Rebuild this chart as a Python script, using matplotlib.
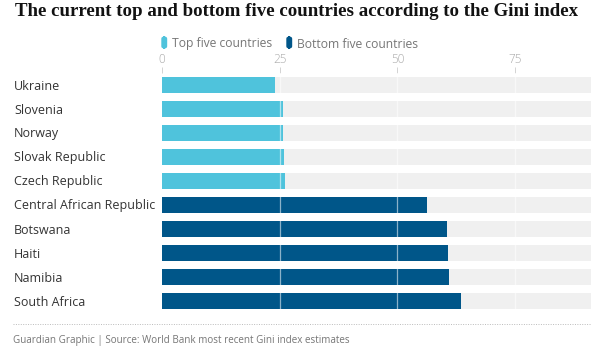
import matplotlib
matplotlib.use("Agg")
import matplotlib.pyplot as plt
from matplotlib.patches import FancyBboxPatch

plt.rcParams['font.family'] = ['Open Sans', 'DejaVu Sans']

countries = ['Ukraine', 'Slovenia', 'Norway', 'Slovak Republic', 'Czech Republic',
             'Central African Republic', 'Botswana', 'Haiti', 'Namibia', 'South Africa']
gini = [24.1, 25.6, 25.8, 26.0, 26.1, 56.2, 60.5, 60.8, 61.0, 63.4]
group = ['top'] * 5 + ['bottom'] * 5
ticks = [0, 25, 50, 75]

top_col = '#4fc3dc'
bottom_col = '#005689'
xmax = 91.1

W, H = 591, 352
fig = plt.figure(figsize=(W / 100, H / 100), dpi=100)
ax = fig.add_axes([162 / W, 1 - 313 / H, (W - 162) / W, 240 / H])

y = list(range(len(countries)))
ax.barh(y, [xmax] * len(y), height=0.66, color='#f0f0f0', zorder=1)
colors = [top_col if g == 'top' else bottom_col for g in group]
ax.barh(y, gini, height=0.66, color=colors, zorder=2)
for t in ticks[1:]:
    ax.axvline(t, color='white', alpha=0.55, lw=0.9, zorder=3)

ax.set_xlim(0, xmax)
ax.set_ylim(len(y) - 0.5, -0.5)
ax.set_yticks([])
ax.xaxis.tick_top()
ax.set_xticks(ticks)
ax.tick_params(axis='x', length=4, width=0.6, color='#cccccc', pad=1,
               labelsize=8.5, labelcolor='#aaaaaa')
for lab in ax.get_xticklabels():
    lab.set_fontweight('light')
for s in ax.spines.values():
    s.set_visible(False)

# country labels
for i, c in enumerate(countries):
    fig.text(14 / W, 1 - (86 + 24 * i) / H, c, fontsize=9, color='#333333',
             va='center', ha='left')

# title
fig.text(15 / W, 1 - 12 / H, 'The current top and bottom five countries according to the Gini index',
         fontsize=13.6, fontweight='bold', family='Liberation Serif', color='#121212',
         va='center', ha='left')

# legend
for xpos, col, lab in [(162, top_col, 'Top five countries'), (287, bottom_col, 'Bottom five countries')]:
    fig.patches.append(FancyBboxPatch((xpos / W, 1 - 48 / H), 4.5 / W, 11 / H,
                                      boxstyle='round,pad=0,rounding_size=0.005',
                                      transform=fig.transFigure, color=col))
    fig.text((xpos + 10) / W, 1 - 44 / H, lab, fontsize=8.7, color='#767676',
             va='center', ha='left')

# footer
fig.add_artist(plt.Line2D([13 / W, 1], [1 - 324 / H, 1 - 324 / H], transform=fig.transFigure,
                          color='#bbbbbb', lw=0.7, ls=(0, (1, 1.5))))
fig.text(13 / W, 1 - 341 / H, 'Guardian Graphic | Source: World Bank most recent Gini index estimates',
         fontsize=7.15, color='#767676', va='center', ha='left')

fig.savefig('out.png', dpi=100, facecolor='white')
